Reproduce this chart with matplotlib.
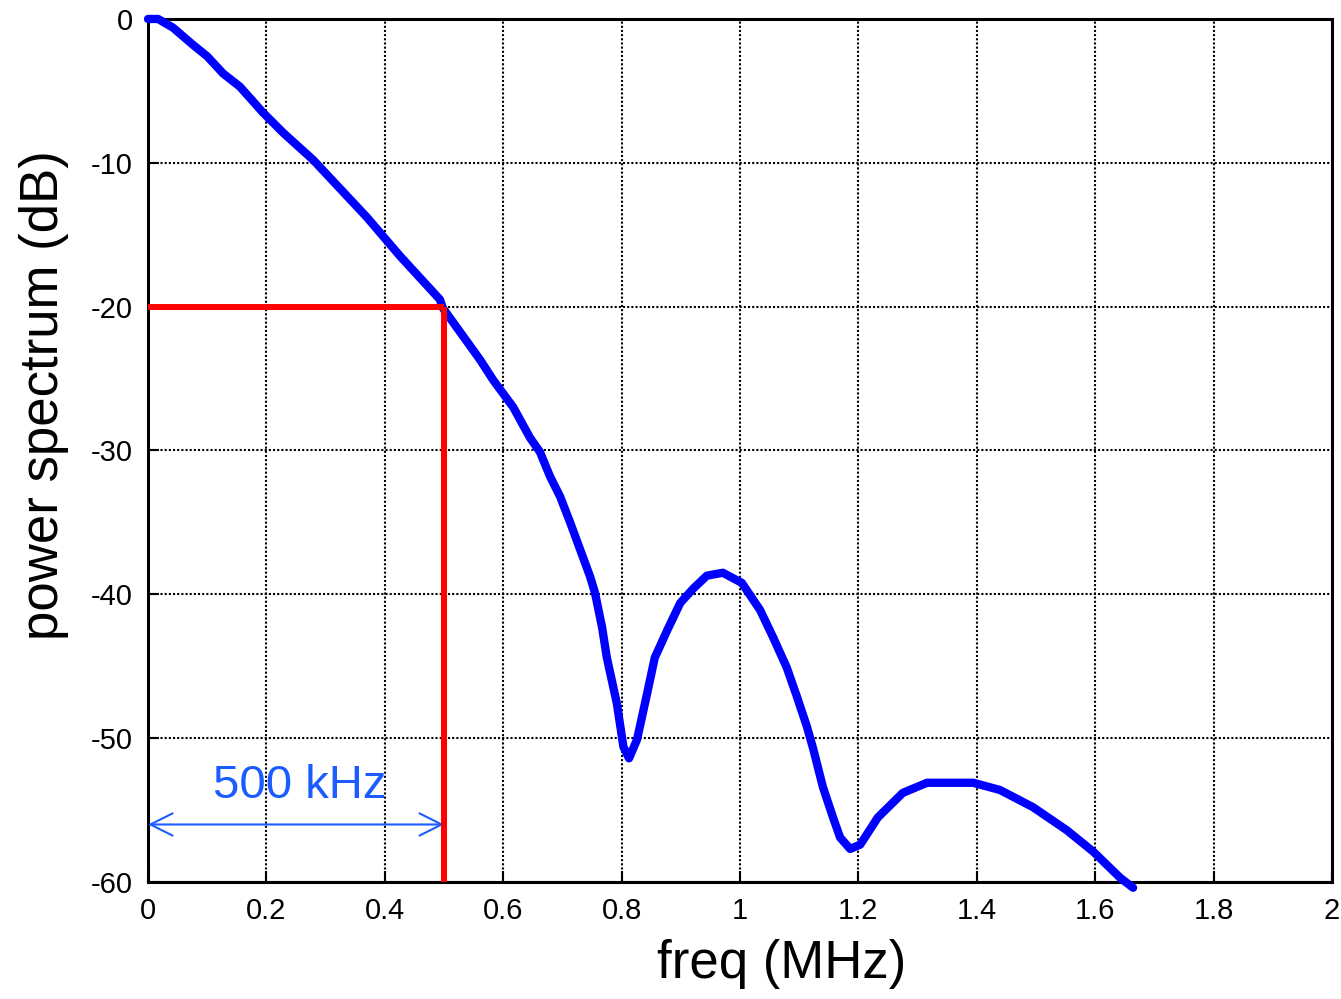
import numpy as np
import matplotlib
matplotlib.use('Agg')
import matplotlib.pyplot as plt

plt.rcParams['font.family'] = ['Liberation Sans', 'DejaVu Sans']

# --- data ---
freq = [0.0, 0.017, 0.042, 0.076, 0.10, 0.127, 0.155, 0.194, 0.228, 0.279,
        0.37, 0.426, 0.493, 0.498, 0.561, 0.583, 0.617, 0.645, 0.662, 0.679,
        0.696, 0.713, 0.730, 0.747, 0.755, 0.767, 0.775, 0.792, 0.803, 0.8125,
        0.826, 0.843, 0.856, 0.877, 0.899, 0.921, 0.944, 0.971, 1.003, 1.034,
        1.056, 1.079, 1.096, 1.113, 1.124, 1.140, 1.157, 1.169, 1.186, 1.203,
        1.233, 1.275, 1.316, 1.355, 1.394, 1.439, 1.495, 1.552, 1.597, 1.642,
        1.664]
power = [0.0, 0.0, -0.6, -1.8, -2.6, -3.8, -4.7, -6.5, -7.9, -9.8,
         -13.8, -16.5, -19.5, -20.1, -23.7, -25.1, -27.0, -29.1, -30.1, -31.8,
         -33.2, -35.0, -36.9, -38.8, -39.9, -42.3, -44.4, -47.6, -50.6, -51.4,
         -50.1, -46.9, -44.4, -42.5, -40.6, -39.6, -38.7, -38.5, -39.2, -41.1,
         -43.0, -45.1, -47.1, -49.2, -50.8, -53.4, -55.5, -56.9, -57.7, -57.4,
         -55.5, -53.8, -53.1, -53.1, -53.1, -53.6, -54.8, -56.4, -57.9, -59.7,
         -60.4]

cutoff_freq = 0.5      # MHz
cutoff_db = -20
xticks = [0, 0.2, 0.4, 0.6, 0.8, 1, 1.2, 1.4, 1.6, 1.8, 2]
xlabels = ['0', '0.2', '0.4', '0.6', '0.8', '1', '1.2', '1.4', '1.6', '1.8', '2']
yticks = [0, -10, -20, -30, -40, -50, -60]
ylabels = ['0', '-10', '-20', '-30', '-40', '-50', '-60']

fig = plt.figure(figsize=(13.41, 9.99), dpi=100)
ax = fig.add_axes([0.1104, 0.1171, 0.8829, 0.8639])

ax.plot(freq, power, color='#0000ff', lw=6, solid_capstyle='round',
        solid_joinstyle='round', zorder=4, clip_on=False)

# cutoff markers
ax.plot([0, cutoff_freq], [cutoff_db, cutoff_db], color='#ff0000', lw=4.3, zorder=5,
        solid_capstyle='butt')
ax.plot([cutoff_freq, cutoff_freq], [cutoff_db, -60], color='#ff0000', lw=4.3, zorder=5,
        solid_capstyle='butt')

# bandwidth arrow
ax.annotate('', xy=(cutoff_freq, -56), xytext=(0, -56),
            arrowprops=dict(arrowstyle='<->,head_length=0.8,head_width=0.4',
                            color='#1a5cff', lw=1.5, mutation_scale=20,
                            shrinkA=0, shrinkB=0), zorder=4)
ax.text(0.257, -53.3, '500 kHz', color='#1a5cff', fontsize=34,
        ha='center', va='center', zorder=6)

ax.set_xlim(0, 2)
ax.set_ylim(-60, 0)
ax.set_xticks(xticks)
ax.set_xticklabels(xlabels)
ax.set_yticks(yticks)
ax.set_yticklabels(ylabels)
ax.tick_params(direction='in', length=8, width=1.5, labelsize=21, pad=11)
ax.grid(True, color='black', linestyle=(0, (1, 1)), lw=1.5)
for s in ax.spines.values():
    s.set_linewidth(2.2)
    s.set_zorder(3)

ax.set_xlabel('freq (MHz)', fontsize=38)
ax.set_ylabel('power spectrum (dB)', fontsize=38)
ax.xaxis.set_label_coords(0.535, -0.066)
ax.yaxis.set_label_coords(-0.067, 0.564)

fig.savefig('out.png', dpi=100)
